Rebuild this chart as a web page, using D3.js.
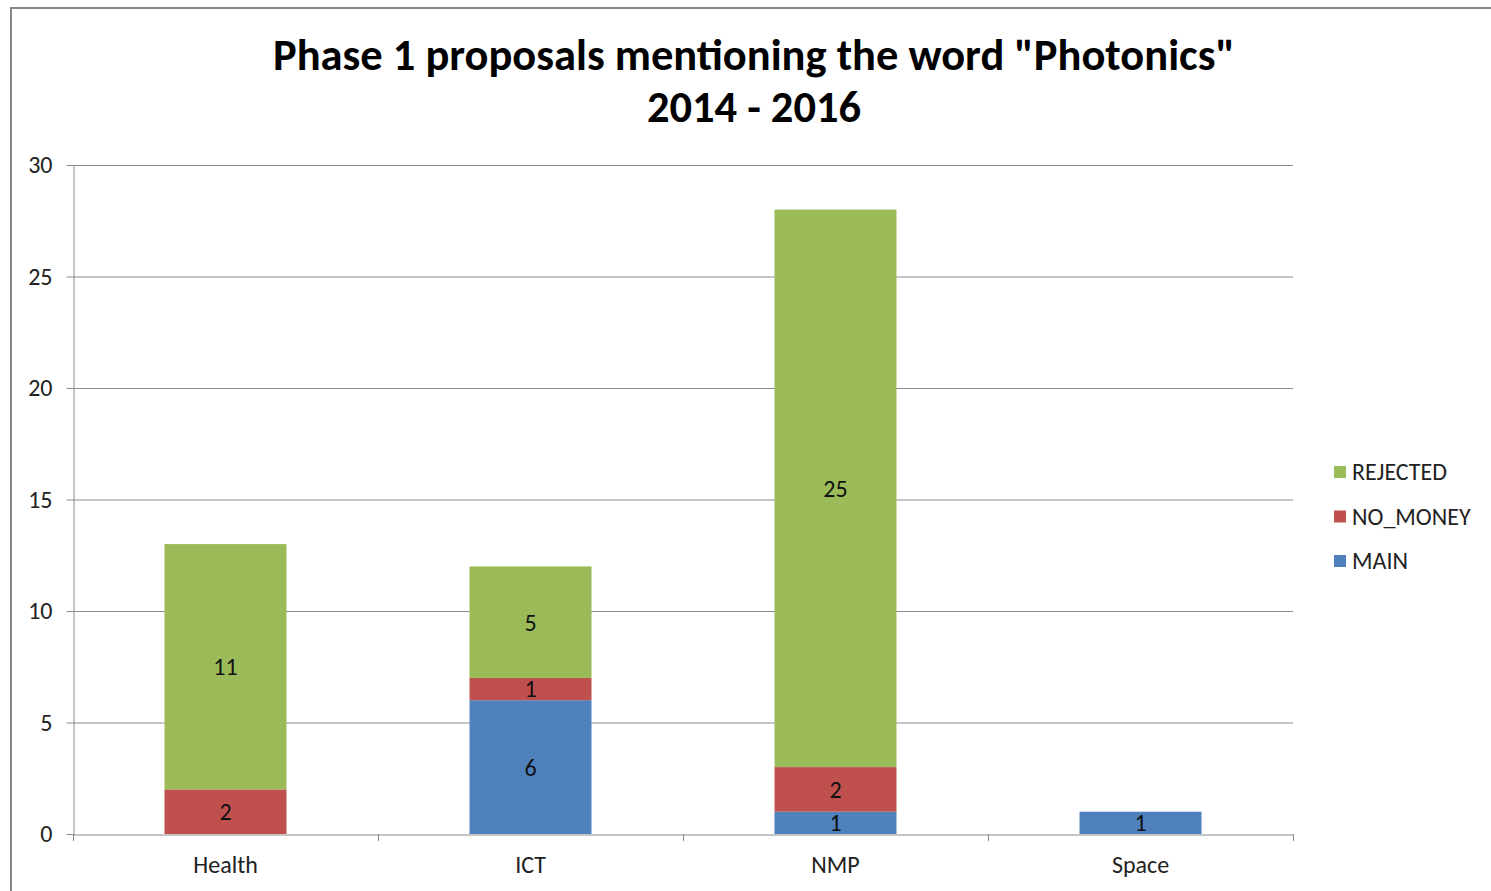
<!DOCTYPE html>
<html><head><meta charset="utf-8">
<script src="https://cdn.jsdelivr.net/npm/d3@7"></script>
<style>body{margin:0;background:#fff;} svg{display:block;}</style>
</head><body>
<svg id="c" width="1491" height="891"></svg>
<script>
const categories = ["Health", "ICT", "NMP", "Space"];
const seriesNames = ["MAIN", "NO_MONEY", "REJECTED"];
const mainValues = [0, 6, 1, 1];
const noMoneyValues = [2, 1, 2, 0];
const rejectedValues = [11, 5, 25, 0];
const yTicks = [0, 5, 10, 15, 20, 25, 30];
const titleLines = ["Phase 1 proposals mentioning the word \"Photonics\"", "2014 - 2016"];
const colors = {MAIN: "#4F81BD", NO_MONEY: "#C0504D", REJECTED: "#9BBB59"};

const font = "Carlito, 'Open Sans', 'Liberation Sans', sans-serif";
const fs = 24;
const svg = d3.select("#c");

// outer chart border
svg.append("rect").attr("x", 11).attr("y", 8).attr("width", 1500).attr("height", 900)
  .attr("fill", "none").attr("stroke", "#878787").attr("stroke-width", 2);

const plot = {left: 73, right: 1293, top: 165, bottom: 834};
const x = d3.scaleBand().domain(categories).range([plot.left, plot.right]).paddingInner(0).paddingOuter(0);
const y = d3.scaleLinear().domain([0, 30]).range([plot.bottom, plot.top]);

// gridlines
svg.append("g").selectAll("line").data(yTicks.filter(d => d > 0)).join("line")
  .attr("x1", plot.left).attr("x2", plot.right)
  .attr("y1", d => y(d) + 0.5).attr("y2", d => y(d) + 0.5)
  .attr("stroke", "#8c8c8c").attr("stroke-width", 1);

// y axis
const yAxis = svg.append("g").attr("transform", `translate(${plot.left + 0.5},0)`)
  .call(d3.axisLeft(y).tickValues(yTicks).tickSize(7).tickPadding(14).tickSizeOuter(0));
yAxis.select(".domain").attr("stroke", "#8c8c8c");
yAxis.selectAll(".tick line").attr("stroke", "#8c8c8c");
yAxis.selectAll("text").attr("font-family", font).attr("font-size", fs).attr("fill", "#222");

// stacked data
const table = categories.map((c, i) => ({cat: c, MAIN: mainValues[i], NO_MONEY: noMoneyValues[i], REJECTED: rejectedValues[i]}));
const stack = d3.stack().keys(seriesNames)(table);
const barW = x.bandwidth() * 0.4;

const layers = svg.append("g").selectAll("g").data(stack).join("g").attr("fill", d => colors[d.key]);
layers.selectAll("rect").data(d => d.filter(p => p[1] - p[0] > 0)).join("rect")
  .attr("x", d => x(d.data.cat) + (x.bandwidth() - barW) / 2)
  .attr("width", barW)
  .attr("y", d => y(d[1]))
  .attr("height", d => y(d[0]) - y(d[1]));

// value labels
layers.selectAll("text").data(d => d.filter(p => p[1] - p[0] > 0).map(p => ({p, key: d.key}))).join("text")
  .attr("x", d => x(d.p.data.cat) + x.bandwidth() / 2)
  .attr("y", d => (y(d.p[0]) + y(d.p[1])) / 2)
  .attr("dy", "0.35em")
  .attr("text-anchor", "middle")
  .attr("font-family", font).attr("font-size", fs).attr("fill", "#111")
  .text(d => d.p[1] - d.p[0]);

// x axis
const xAxis = svg.append("g").attr("transform", `translate(0,${plot.bottom + 0.5})`)
  .call(d3.axisBottom(x).tickSize(0).tickPadding(21));
xAxis.select(".domain").attr("stroke", "#8c8c8c");
xAxis.selectAll("text").attr("font-family", font).attr("font-size", fs).attr("fill", "#222");
// x tick marks at category boundaries
const bounds = categories.map(c => x(c)).concat([plot.right]);
svg.append("g").selectAll("line").data(bounds).join("line")
  .attr("x1", d => d + 0.5).attr("x2", d => d + 0.5)
  .attr("y1", plot.bottom).attr("y2", plot.bottom + 7)
  .attr("stroke", "#8c8c8c");

// title
const title = svg.append("g");
titleLines.forEach((t, i) => {
  title.append("text").attr("x", 754).attr("y", 70 + i * 52)
    .attr("text-anchor", "middle").attr("font-family", font).attr("font-weight", "bold")
    .attr("font-size", 40).attr("fill", "#000").text(t);
});
// fit first line width to ~962px
const t1 = title.select("text").node();
const w1 = t1.getComputedTextLength();
if (w1 > 0) {
  const tfs = 40 * 962 / w1;
  title.selectAll("text").attr("font-size", Math.min(tfs, 48));
}

// legend
const legendItems = ["REJECTED", "NO_MONEY", "MAIN"];
const lg = svg.append("g").selectAll("g").data(legendItems).join("g")
  .attr("transform", (d, i) => `translate(1334,${472 + i * 44.5})`);
lg.append("rect").attr("x", 0).attr("y", -6).attr("width", 12).attr("height", 12).attr("fill", d => colors[d]);
lg.append("text").attr("x", 18).attr("y", 0).attr("dy", "0.35em")
  .attr("font-family", font).attr("font-size", fs).attr("fill", "#222").text(d => d);
</script>
</body></html>
